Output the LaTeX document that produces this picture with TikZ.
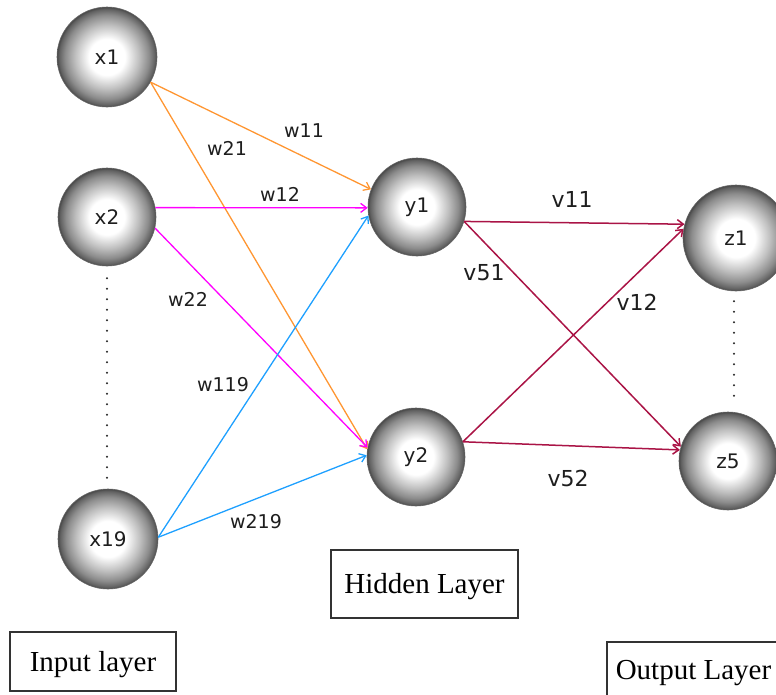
\documentclass[tikz,border=0pt]{standalone}
\usepackage{fontspec}
\setmainfont{Liberation Serif}
\newfontfamily\labelfont{DejaVu Sans}
\usetikzlibrary{arrows.meta}

% grey ball: white core fading to a dark rim
\pgfdeclareradialshading{greyball}{\pgfpoint{0bp}{0bp}}{%
  color(0bp)=(white); color(9bp)=(white); color(16bp)=(black!25);
  color(21bp)=(black!45); color(24bp)=(black!62); color(25bp)=(black!72);
  color(50bp)=(black!72)}

\definecolor{wOrange}{RGB}{255,150,50}
\definecolor{wMagenta}{RGB}{255,0,255}
\definecolor{wBlue}{RGB}{30,160,255}
\definecolor{vRed}{RGB}{170,20,70}
\definecolor{txt}{RGB}{30,30,30}

\tikzset{
  neuron/.style={circle, shading=greyball, draw=black!60, line width=0.6pt,
    inner sep=0pt, font=\labelfont\fontsize{20}{20}\selectfont, text=txt},
  link/.style={line width=1.3pt, -{Straight Barb[length=6pt,width=9pt]}},
  wlabel/.style={font=\labelfont\fontsize{19}{19}\selectfont, text=txt, inner sep=0pt},
  vlabel/.style={font=\labelfont\fontsize{22}{22}\selectfont, text=txt, inner sep=0pt},
  dotline/.style={line width=2.2pt, line cap=round, dash pattern=on 0pt off 10.5pt, black!85},
  layerbox/.style={draw=black!80, line width=1.3pt, inner sep=0pt,
    font=\fontsize{29}{29}\selectfont, text depth=0pt, text height=19pt}
}

\begin{document}
\begin{tikzpicture}[x=1pt, y=-1pt]
\useasboundingbox (0,0) rectangle (776,694);
\clip (0,0) rectangle (776,694);

% layers of neurons
\node[neuron, minimum size=100pt] (x1)  at (107,57)  {x1};
\node[neuron, minimum size=98pt]  (x2)  at (107,217) {x2};
\node[neuron, minimum size=100pt] (x19) at (108,539) {x19};
\node[neuron, minimum size=98pt]  (y1)  at (417,207) {y1};
\node[neuron, minimum size=98pt]  (y2)  at (416,457) {y2};
\node[neuron, minimum size=106pt] (z1)  at (736,238) {z1};
\node[neuron, minimum size=98pt]  (z5)  at (728,461) {z5};

% elided neurons
\draw[dotline, shorten <=12pt, shorten >=6pt] (x2.south) -- (x2.south |- x19.north);
\coordinate (zgap) at ([xshift=-2pt]z1.south);
\draw[dotline, shorten <=10pt, shorten >=8pt] (zgap) -- (zgap |- z5.north);

% input -> hidden weights
\draw[link, wOrange]  (x1.-30)  -- (y1.159);
\draw[link, wOrange]  (x1.-30)  -- (y2.171);
\draw[link, wMagenta] (x2.11)   -- (y1.181);
\draw[link, wMagenta] (x2.-13)  -- (y2.169);
\draw[link, wBlue]    (x19.2)   -- (y1.190);
\draw[link, wBlue]    (x19.2)   -- (y2.178);

% hidden -> output weights
\draw[link, vRed, line width=1.5pt] (y1.-17) -- (z1.165);
\draw[link, vRed, line width=1.5pt] (y1.-17) -- (z5.163);
\draw[link, vRed, line width=1.5pt] (y2.18)  -- (z1.170);
\draw[link, vRed, line width=1.5pt] (y2.18)  -- (z5.167);

% weight labels
\node[wlabel] (lw11)  at (304,131) {w11};
\node[wlabel] (lw21)  at (227,148) {w21};
\node[wlabel] (lw12)  at (280,194) {w12};
\node[wlabel] (lw22)  at (188,299) {w22};
\node[wlabel] (lw119) at (223,385) {w119};
\node[wlabel] (lw219) at (256,522) {w219};
\node[vlabel] (lv11)  at (572,199) {v11};
\node[vlabel] (lv51)  at (484,273) {v51};
\node[vlabel] (lv12)  at (637,302) {v12};
\node[vlabel] (lv52)  at (568,478) {v52};

% layer captions
\node[layerbox, minimum width=166pt, minimum height=59pt] (inbox)  at (93,661.5)  {Input layer};
\node[layerbox, minimum width=187pt, minimum height=68pt] (hidbox) at (424.5,584) {Hidden Layer};
\node[layerbox, minimum width=173pt, minimum height=56pt] (outbox) at (693.5,670) {Output Layer};
\end{tikzpicture}
\end{document}
